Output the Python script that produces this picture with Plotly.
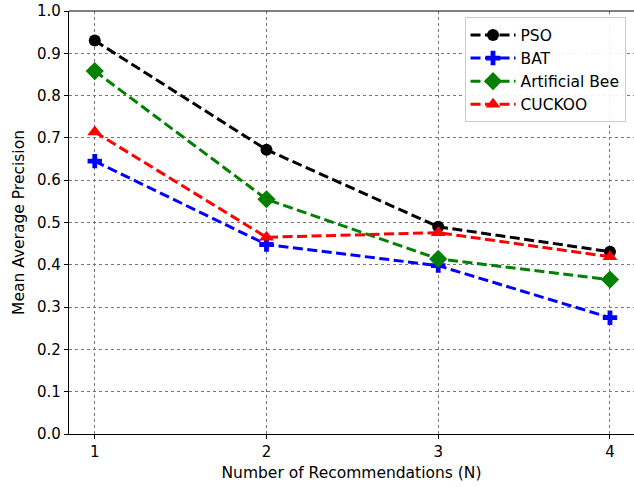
import plotly.graph_objects as go

x_vals = [1, 2, 3, 4]
pso = [0.93, 0.672, 0.49, 0.431]
bat = [0.645, 0.448, 0.398, 0.275]
bee = [0.858, 0.555, 0.414, 0.365]
cuckoo = [0.714, 0.465, 0.476, 0.419]

series = [
    ("PSO", pso, "black", "circle", 12),
    ("BAT", bat, "blue", "cross", 12),
    ("Artificial Bee", bee, "green", "diamond", 14),
    ("CUCKOO", cuckoo, "red", "triangle-up", 13),
]

fig = go.Figure()
for name, ys, color, sym, size in series:
    fig.add_trace(go.Scatter(
        x=x_vals, y=ys, name=name, mode="lines+markers",
        line=dict(color=color, width=3, dash="10px,4.5px"),
        marker=dict(symbol=sym, size=size, color=color, line=dict(width=0)),
    ))

axis_common = dict(
    showline=True, linecolor="black", linewidth=1.2, mirror=False,
    ticks="outside", ticklen=4, tickcolor="black", tickwidth=1,
    showgrid=True, gridcolor="#777777", gridwidth=0.6, griddash="dot",
    zeroline=False, tickfont=dict(family="DejaVu Sans", size=15, color="black"),
)

fig.update_layout(
    width=634, height=487,
    margin=dict(l=69, r=0, t=11, b=53),
    plot_bgcolor="white", paper_bgcolor="white",
    font=dict(family="DejaVu Sans", size=14, color="black"),
    xaxis=dict(range=[0.85, 4.14], tickvals=x_vals, ticktext=["1", "2", "3", "4"],
               title=dict(text="Number of Recommendations (N)", font=dict(size=15.5), standoff=7),
               **axis_common),
    yaxis=dict(range=[0, 1.0], tickvals=[i / 10 for i in range(11)],
               tickformat=".1f",
               title=dict(text="Mean Average Precision", font=dict(size=15.5), standoff=8),
               **axis_common),
    legend=dict(x=0.985, y=0.985, xanchor="right", yanchor="top",
                bgcolor="rgba(255,255,255,0.9)", bordercolor="#cccccc", borderwidth=1,
                font=dict(family="DejaVu Sans", size=15.5), itemwidth=45,
                tracegroupgap=0),
)
# top spine
fig.add_shape(type="line", xref="paper", yref="paper", x0=0, x1=1, y0=1, y1=1,
              line=dict(color="black", width=1.2))

fig.write_html("out.html")
